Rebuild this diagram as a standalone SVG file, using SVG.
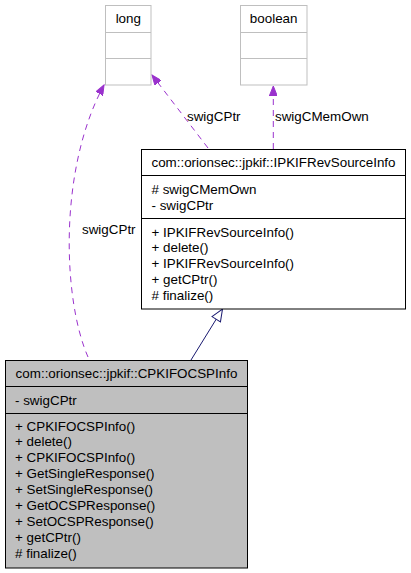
<svg xmlns="http://www.w3.org/2000/svg" width="411" height="573" viewBox="0 0 411 573">
<defs>
<style>
text{font-family:"Liberation Sans",Arial,sans-serif;font-size:13.4px;fill:#000}
.c{text-anchor:middle}
.gbox{fill:#fff;stroke:#bfbfbf;stroke-width:1}
.bbox{fill:#fff;stroke:#000;stroke-width:1}
.sel{fill:#bfbfbf;stroke:#000;stroke-width:1}
.dep{fill:none;stroke:#9a32cd;stroke-width:1;stroke-dasharray:6,5}
.inh{fill:none;stroke:#191970;stroke-width:1}
</style>
<marker id="pa" markerWidth="11" markerHeight="8" refX="10" refY="4" orient="auto" markerUnits="userSpaceOnUse">
<path d="M0,0 L10,4 L0,8 Z" fill="#9a32cd" stroke="#9a32cd" stroke-width="1"/>
</marker>
<marker id="ia" markerWidth="14" markerHeight="12" refX="13" refY="6" orient="auto" markerUnits="userSpaceOnUse">
<path d="M1,1 L13,6 L1,11 Z" fill="#fff" stroke="#191970" stroke-width="1"/>
</marker>
</defs>
<g id="connectors">
<path class="dep" d="M88,357 C63,300 58,170 104,85" marker-end="url(#pa)"/>
<text x="82" y="234">swigCPtr</text>
<path class="dep" d="M208,148 L152,75" marker-end="url(#pa)"/>
<text x="187" y="121">swigCPtr</text>
<path class="dep" d="M273.3,149 L273.3,86" marker-end="url(#pa)"/>
<text x="275" y="121">swigCMemOwn</text>
<path class="inh" d="M191,360 L222.5,309" marker-end="url(#ia)"/>
</g>
<g id="long">
<rect class="gbox" x="105.5" y="5.5" width="45.5" height="79.5"/>
<line x1="105.5" y1="32.5" x2="151" y2="32.5" stroke="#bfbfbf"/>
<line x1="105.5" y1="58.5" x2="151" y2="58.5" stroke="#bfbfbf"/>
<text class="c" x="128.3" y="23">long</text>
</g>
<g id="boolean">
<rect class="gbox" x="240.5" y="5.5" width="66.5" height="79.5"/>
<line x1="240.5" y1="32.5" x2="307" y2="32.5" stroke="#bfbfbf"/>
<line x1="240.5" y1="58.5" x2="307" y2="58.5" stroke="#bfbfbf"/>
<text class="c" x="273.7" y="23">boolean</text>
</g>
<g id="IPKIFRevSourceInfo">
<rect class="bbox" x="141.5" y="149.5" width="264" height="159.5"/>
<line x1="141.5" y1="175.5" x2="405.5" y2="175.5" stroke="#000"/>
<line x1="141.5" y1="218.5" x2="405.5" y2="218.5" stroke="#000"/>
<text class="c" x="273.5" y="167">com::orionsec::jpkif::IPKIFRevSourceInfo</text>
<text x="151.5" y="193.8"># swigCMemOwn</text>
<text x="151.5" y="209.6">- swigCPtr</text>
<text x="151.5" y="236.5">+ IPKIFRevSourceInfo()</text>
<text x="151.5" y="252.3">+ delete()</text>
<text x="151.5" y="268">+ IPKIFRevSourceInfo()</text>
<text x="151.5" y="283.8">+ getCPtr()</text>
<text x="151.5" y="299.5"># finalize()</text>
</g>
<g id="CPKIFOCSPInfo">
<rect class="sel" x="5.5" y="360.5" width="242" height="207.5"/>
<line x1="5.5" y1="386.5" x2="247.5" y2="386.5" stroke="#000"/>
<line x1="5.5" y1="413.5" x2="247.5" y2="413.5" stroke="#000"/>
<text class="c" x="126.5" y="378">com::orionsec::jpkif::CPKIFOCSPInfo</text>
<text x="15" y="404.5">- swigCPtr</text>
<text x="15" y="430.5">+ CPKIFOCSPInfo()</text>
<text x="15" y="446.4">+ delete()</text>
<text x="15" y="462.3">+ CPKIFOCSPInfo()</text>
<text x="15" y="478.2">+ GetSingleResponse()</text>
<text x="15" y="494.1">+ SetSingleResponse()</text>
<text x="15" y="510">+ GetOCSPResponse()</text>
<text x="15" y="525.9">+ SetOCSPResponse()</text>
<text x="15" y="541.8">+ getCPtr()</text>
<text x="15" y="557.7"># finalize()</text>
</g>
</svg>
